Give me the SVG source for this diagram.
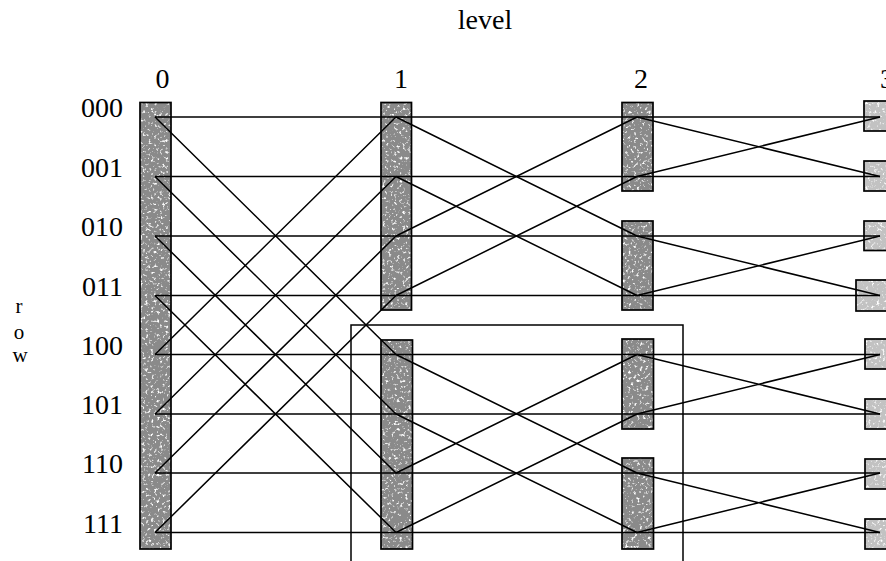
<svg xmlns="http://www.w3.org/2000/svg" width="886" height="561" viewBox="0 0 886 561">
<style>
text{font-family:"Liberation Serif","Times New Roman",serif;fill:#000}
.rl{font-size:28px;text-anchor:end}
.lv{font-size:28px;text-anchor:middle}
.rw{font-size:21px;text-anchor:middle}
.dk{fill:#8a8a8a;filter:url(#speck)}
.lt{fill:#c2c2c2;filter:url(#speck)}
.bd{fill:none;stroke:#000;stroke-width:1.7}
.ln{stroke:#000;stroke-width:1.5;fill:none}
.fr{stroke:#000;stroke-width:1.5;fill:none}
</style>
<defs>
<filter id="speck" x="0" y="0" width="100%" height="100%">
<feTurbulence type="fractalNoise" baseFrequency="0.35" numOctaves="2" seed="7" result="n"/>
<feColorMatrix in="n" type="matrix" values="0 0 0 0 1  0 0 0 0 1  0 0 0 0 1  5 0 0 0 -2.9" result="w"/>
<feComposite in="w" in2="SourceGraphic" operator="atop" result="s"/>
<feMerge><feMergeNode in="SourceGraphic"/><feMergeNode in="s"/></feMerge>
</filter>
</defs>
<rect width="886" height="561" fill="#fff"/>
<text class="lv" x="485" y="29">level</text>
<g id="levels">
<text class="lv" x="162.5" y="88">0</text>
<text class="lv" x="401" y="88">1</text>
<text class="lv" x="641" y="88">2</text>
<text class="lv" x="887" y="88">3</text>
</g>
<g id="rowlabels">
<text class="rl" x="123" y="117">000</text>
<text class="rl" x="123" y="176.5">001</text>
<text class="rl" x="123" y="236">010</text>
<text class="rl" x="123" y="295.5">011</text>
<text class="rl" x="123" y="354.5">100</text>
<text class="rl" x="123" y="414">101</text>
<text class="rl" x="123" y="473">110</text>
<text class="rl" x="123" y="532.5">111</text>
<text class="rw" x="19" y="313">r</text>
<text class="rw" x="19" y="339">o</text>
<text class="rw" x="20" y="362">w</text>
</g>
<g id="frame"><path class="fr" d="M351,561 V325 H683 V561"/></g>
<g id="level0">
<rect class="dk" x="140" y="102.5" width="31" height="446.5"/>
<rect class="bd" x="140" y="102.5" width="31" height="446.5"/>
</g>
<g id="level1">
<g id="l1a"><rect class="dk" x="381" y="102.5" width="30.5" height="207.5"/><rect class="bd" x="381" y="102.5" width="30.5" height="207.5"/></g>
<g id="l1b"><rect class="dk" x="381" y="340" width="31.5" height="209"/><rect class="bd" x="381" y="340" width="31.5" height="209"/></g>
</g>
<g id="level2">
<g id="l2a"><rect class="dk" x="622" y="102.5" width="31" height="88.5"/><rect class="bd" x="622" y="102.5" width="31" height="88.5"/></g>
<g id="l2b"><rect class="dk" x="622" y="221" width="31" height="89"/><rect class="bd" x="622" y="221" width="31" height="89"/></g>
<g id="l2c"><rect class="dk" x="622" y="339" width="31.5" height="90"/><rect class="bd" x="622" y="339" width="31.5" height="90"/></g>
<g id="l2d"><rect class="dk" x="622" y="458" width="31.5" height="91"/><rect class="bd" x="622" y="458" width="31.5" height="91"/></g>
</g>
<g id="level3">
<g id="l3-000"><rect class="lt" x="864" y="101" width="31" height="30"/><rect class="bd" x="864" y="101" width="31" height="30"/></g>
<g id="l3-001"><rect class="lt" x="864" y="161" width="31" height="30"/><rect class="bd" x="864" y="161" width="31" height="30"/></g>
<g id="l3-010"><rect class="lt" x="864" y="221" width="31" height="29.5"/><rect class="bd" x="864" y="221" width="31" height="29.5"/></g>
<g id="l3-011"><rect class="lt" x="856" y="280" width="40" height="31"/><rect class="bd" x="856" y="280" width="40" height="31"/></g>
<g id="l3-100"><rect class="lt" x="865" y="339" width="31" height="30"/><rect class="bd" x="865" y="339" width="31" height="30"/></g>
<g id="l3-101"><rect class="lt" x="865" y="399" width="31" height="30"/><rect class="bd" x="865" y="399" width="31" height="30"/></g>
<g id="l3-110"><rect class="lt" x="865" y="459" width="31" height="30"/><rect class="bd" x="865" y="459" width="31" height="30"/></g>
<g id="l3-111"><rect class="lt" x="865" y="519" width="31" height="30"/><rect class="bd" x="865" y="519" width="31" height="30"/></g>
</g>
<g id="connectors" class="ln">
<path d="M155,117 H880 M155,176.5 H880 M155,236 H880 M155,295.5 H880 M155,354.5 H880 M155,414 H880 M155,473 H880 M155,532.5 H880"/>
<path d="M155,117 L396,354.5 M155,176.5 L396,414 M155,236 L396,473 M155,295.5 L396,532.5 M155,354.5 L396,117 M155,414 L396,176.5 M155,473 L396,236 M155,532.5 L396,295.5"/>
<path d="M396,117 L637,236 M396,176.5 L637,295.5 M396,236 L637,117 M396,295.5 L637,176.5 M396,354.5 L637,473 M396,414 L637,532.5 M396,473 L637,354.5 M396,532.5 L637,414"/>
<path d="M637,117 L880,176.5 M637,176.5 L880,117 M637,236 L880,295.5 M637,295.5 L880,236 M637,354.5 L880,414 M637,414 L880,354.5 M637,473 L880,532.5 M637,532.5 L880,473"/>
</g>
</svg>
